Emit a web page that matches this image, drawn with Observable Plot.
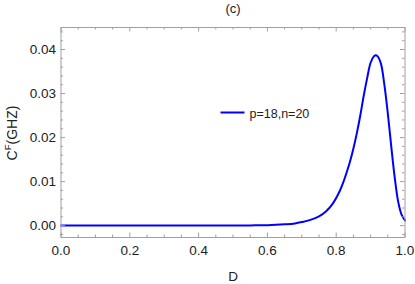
<!DOCTYPE html>
<html>
<head>
<meta charset="utf-8">
<script src="https://cdn.jsdelivr.net/npm/d3@7"></script>
<script src="https://cdn.jsdelivr.net/npm/@observablehq/plot@0.6"></script>
<style>
  html, body { margin: 0; padding: 0; background: #fff; }
  svg { font-family: "Liberation Sans", Arial, sans-serif; }
</style>
</head>
<body>
<div id="chart"></div>
<script>
// ---- data ----
const dValues = [0, 0.1, 0.2, 0.3, 0.4, 0.5, 0.55, 0.6, 0.65, 0.68, 0.7, 0.725, 0.75, 0.77, 0.79, 0.81, 0.82, 0.83, 0.84, 0.85, 0.86, 0.87, 0.88, 0.89, 0.9, 0.91, 0.915, 0.92, 0.93, 0.94, 0.95, 0.96, 0.97, 0.98, 0.99, 1.0];
const cValues = [0, 0, 0, 0, 0, 0.00002, 0.00005, 0.0001, 0.0003, 0.0005, 0.0008, 0.0013, 0.0021, 0.0032, 0.0050, 0.0078, 0.0097, 0.0120, 0.0145, 0.0175, 0.0210, 0.0250, 0.0295, 0.0335, 0.0370, 0.0385, 0.0387, 0.0385, 0.0368, 0.0320, 0.0255, 0.0180, 0.0110, 0.0055, 0.0025, 0.0012];
const seriesLabel = "p=18,n=20";
const xMajorTicks = [0, 0.2, 0.4, 0.6, 0.8, 1.0];
const xMinorTicks = [0.05, 0.1, 0.15, 0.25, 0.3, 0.35, 0.45, 0.5, 0.55, 0.65, 0.7, 0.75, 0.85, 0.9, 0.95];
const yMajorTicks = [0, 0.01, 0.02, 0.03, 0.04];
const yMinorTicks = [-0.002, 0.002, 0.004, 0.006, 0.008, 0.012, 0.014, 0.016, 0.018, 0.022, 0.024, 0.026, 0.028, 0.032, 0.034, 0.036, 0.038, 0.042, 0.044];
const titleText = "(c)";
const xLabel = "D";

const data = dValues.map((d, i) => ({D: d, C: cValues[i]}));

const W = 415, H = 284;
const mL = 60.5, mR = 10.5, mT = 27, mB = 47;
const xDom = [0, 1], yDom = [-0.0027, 0.045];
const pxX = (xDom[1] - xDom[0]) / (W - mL - mR);
const pxY = (yDom[1] - yDom[0]) / (H - mT - mB);
const frameColor = "#a0a0a0";
const majLen = 4.5, minLen = 2.5;

const tickRulesX = (ticks, len) => [
  Plot.ruleX(ticks, {x: d => d, y1: yDom[0], y2: yDom[0] + len * pxY, stroke: frameColor, strokeWidth: 1}),
  Plot.ruleX(ticks, {x: d => d, y1: yDom[1], y2: yDom[1] - len * pxY, stroke: frameColor, strokeWidth: 1})
];
const tickRulesY = (ticks, len) => [
  Plot.ruleY(ticks, {y: d => d, x1: xDom[0], x2: xDom[0] + len * pxX, stroke: frameColor, strokeWidth: 1}),
  Plot.ruleY(ticks, {y: d => d, x1: xDom[1], x2: xDom[1] - len * pxX, stroke: frameColor, strokeWidth: 1})
];

const chart = Plot.plot({
  width: W, height: H,
  marginLeft: mL, marginRight: mR, marginTop: mT, marginBottom: mB,
  style: {fontFamily: "'Liberation Sans', Arial, sans-serif", background: "#fff", overflow: "visible"},
  x: {domain: xDom},
  y: {domain: yDom},
  marks: [
    Plot.line(data, {x: "D", y: "C", stroke: "#0000ff", strokeWidth: 2, curve: "catmull-rom"}),
    Plot.frame({stroke: frameColor, strokeWidth: 1}),
    ...tickRulesX(xMajorTicks, majLen),
    ...tickRulesX(xMinorTicks, minLen),
    ...tickRulesY(yMajorTicks, majLen),
    ...tickRulesY(yMinorTicks, minLen),
    Plot.axisX({ticks: xMajorTicks, tickFormat: d3.format(".1f"), tickSize: 0, tickPadding: 8, fontSize: 13.5, label: null, fill: "#222"}),
    Plot.axisY({ticks: yMajorTicks, tickFormat: d3.format(".2f"), tickSize: 0, tickPadding: 5, fontSize: 13.5, label: null, fill: "#222"}),
    Plot.text([titleText], {frameAnchor: "top", dy: -18.5, lineAnchor: "middle", fontSize: 13, fill: "#222"}),
    Plot.text([xLabel], {frameAnchor: "bottom", dy: 39.5, lineAnchor: "middle", fontSize: 13.5, fill: "#222"}),
    Plot.text([seriesLabel], {frameAnchor: "top-left", dx: 188.5, dy: 86, textAnchor: "start", lineAnchor: "middle", fontSize: 12.5, fill: "#222"})
  ]
});

const svg = d3.select(chart);
// legend swatch line
svg.append("line")
  .attr("x1", 220.5).attr("x2", 244.5)
  .attr("y1", 112.5).attr("y2", 112.5)
  .attr("stroke", "#0000ff").attr("stroke-width", 2);
// y-axis label with superscript
const yl = svg.append("text")
  .attr("transform", "translate(17,133) rotate(-90)")
  .attr("text-anchor", "middle")
  .attr("font-size", 14)
  .attr("fill", "#222");
yl.append("tspan").text("C");
yl.append("tspan").attr("dy", -6).attr("font-size", 9.5).text("F");
yl.append("tspan").attr("dy", 6).text("(GHZ)");

document.getElementById("chart").appendChild(chart);
</script>
</body>
</html>
